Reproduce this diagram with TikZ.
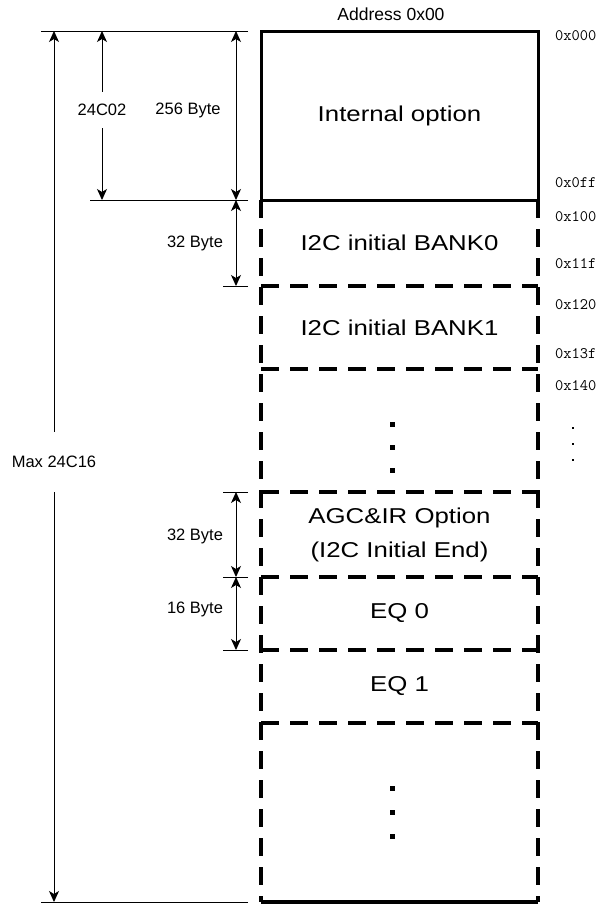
\documentclass[tikz,border=0pt]{standalone}
\usepackage{fontspec}
\setmainfont{Liberation Sans}
\newfontfamily\cellfont[FakeStretch=1.2]{Liberation Sans}
\usetikzlibrary{arrows.meta,positioning}

\begin{document}
\begin{tikzpicture}[
  x=1pt,y=-1pt,
  cell/.style={minimum width=277pt,inner sep=0pt,outer sep=0pt,align=center,
               font=\cellfont\fontsize{21.5}{34}\selectfont},
  dimtxt/.style={font=\fontsize{16.5}{20}\selectfont,inner sep=0pt},
  addr/.style={font=\ttfamily\fontsize{16}{18}\selectfont,anchor=west,inner sep=0pt},
  dashln/.style={line width=3.5pt,dash pattern=on 18pt off 11pt},
  extln/.style={line width=1pt},
  sarr/.style={line width=1pt,-{Stealth[length=11pt,width=10pt,inset=3pt]}},
  darr/.style={line width=1pt,{Stealth[length=11pt,width=10pt,inset=3pt]}-{Stealth[length=11pt,width=10pt,inset=3pt]}},
  sqdot/.style={fill,minimum size=5pt,inner sep=0pt},
  smdot/.style={fill,minimum size=2.6pt,inner sep=0pt}
]
\useasboundingbox (0,0) rectangle (601,906);

% ---- Memory map ---------------------------------------------
\node[cell,minimum height=169pt,draw,line width=3pt] (intopt) at (399.5,115.5) {Internal option};
\node[cell,minimum height=86pt,below=0pt of intopt]  (bank0) {I2C initial BANK0};
\node[cell,minimum height=83pt,below=0pt of bank0]   (bank1) {I2C initial BANK1};
\node[cell,minimum height=123pt,below=0pt of bank1]  (gap1)  {};
\node[cell,minimum height=85pt,below=0pt of gap1]    (agc)   {AGC\&IR Option\\(I2C Initial End)};
\node[cell,minimum height=73pt,below=0pt of agc]     (eq0)   {EQ 0};
\node[cell,minimum height=73pt,below=0pt of eq0]     (eq1)   {EQ 1};
\node[cell,minimum height=179pt,below=0pt of eq1]    (gap2)  {};

\draw[dashln] (bank0.north west) -- (gap2.south west);
\draw[dashln] (bank0.north east) -- (gap2.south east);
\foreach \c in {bank0,bank1,gap1,agc,eq0,eq1}
  \draw[dashln] (\c.south west) -- (\c.south east);
\draw[line width=3.5pt] (gap2.south west) -- (gap2.south east);

% continuation dots
\foreach \i/\s in {1/6.5,2/-16.5,3/-39.5}
  \node[sqdot] (dta\i) at ([xshift=-7pt,yshift=\s pt]gap1.center) {};
\foreach \i/\s in {1/24.5,2/0.5,3/-23.5}
  \node[sqdot] (dtb\i) at ([xshift=-7pt,yshift=\s pt]gap2.center) {};

% ---- Addresses ----------------------------------------------
\node[dimtxt,font=\fontsize{17.5}{20}\selectfont] (hdr) at (391,14) {Address 0x00};
\node[addr] (a000) at (555,36)  {0x000};
\node[addr] (a0ff) at (555,183) {0x0ff};
\node[addr] (a100) at (555,217) {0x100};
\node[addr] (a11f) at (555,264) {0x11f};
\node[addr] (a120) at (555,305) {0x120};
\node[addr] (a13f) at (555,354) {0x13f};
\node[addr] (a140) at (555,386) {0x140};
\foreach \i/\y in {1/428,2/444,3/460}
  \node[smdot] (adt\i) at (573,\y) {};

% ---- Extension lines ----------------------------------------
\draw[extln] ([xshift=-13pt]intopt.north west) -- ++(-207,0);
\draw[extln] ([xshift=-13pt]intopt.south west) -- ++(-158,0);
\foreach \c in {bank0,gap1,agc,eq0}
  \draw[extln] ([xshift=-13pt]\c.south west) -- ++(-25,0);
\draw[extln] ([xshift=-13pt]gap2.south west) -- ++(-207,0);

% ---- Sizes --------------------------------------------------
\node[dimtxt,minimum height=60pt] (maxlbl) at (54,462) {Max 24C16};
\draw[sarr] (maxlbl.north) -- (intopt.north west -| maxlbl.north);
\draw[sarr] (maxlbl.south) -- (gap2.south west -| maxlbl.south);

\node[dimtxt,minimum height=36pt] (c02lbl) at (102,110) {24C02};
\draw[sarr] (c02lbl.north) -- (intopt.north west -| c02lbl.north);
\draw[sarr] (c02lbl.south) -- (intopt.south west -| c02lbl.south);

\coordinate (bx) at (236,0);
\node[dimtxt] (b256) at (188,110) {256 Byte};
\draw[darr] (intopt.north west -| bx) -- (intopt.south west -| bx);
\node[dimtxt] (b32a) at (195,243) {32 Byte};
\draw[darr] (bank0.north west -| bx) -- (bank0.south west -| bx);
\node[dimtxt] (b32b) at (195,536) {32 Byte};
\draw[darr] (agc.north west -| bx) -- (agc.south west -| bx);
\node[dimtxt] (b16) at (195,609) {16 Byte};
\draw[darr] (eq0.north west -| bx) -- (eq0.south west -| bx);

\end{tikzpicture}
\end{document}
